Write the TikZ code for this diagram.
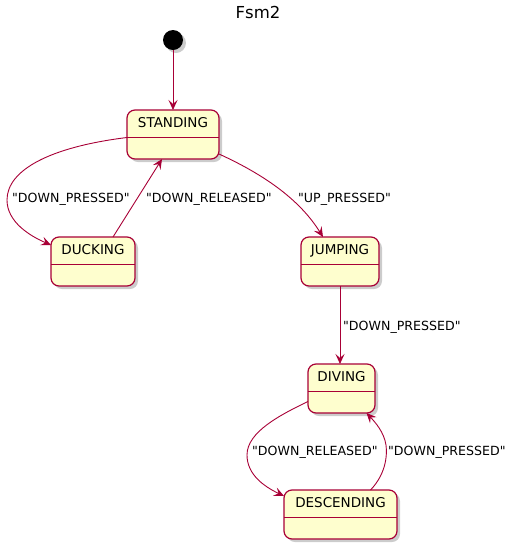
\documentclass[tikz,border=0pt]{standalone}
\usepackage{fontspec}
\setmainfont{DejaVu Sans}
\usetikzlibrary{arrows.meta,shadows}
\definecolor{umlred}{HTML}{A80036}
\definecolor{umlfill}{HTML}{FEFECE}
\newcommand{\qq}[1]{\textquotedbl#1\textquotedbl}

\begin{document}
\begin{tikzpicture}[x=1pt,y=-1pt,
    state/.style={draw=umlred,fill=umlfill,line width=1.2pt,rounded corners=8pt,
      minimum height=49pt,inner ysep=7pt,text height=10.5pt,text depth=24.5pt,outer sep=0pt,
      font=\fontsize{13.5}{16}\selectfont,
      drop shadow={shadow xshift=3pt,shadow yshift=-3pt,fill=black!40,opacity=0.5}},
    divider/.style={draw=umlred,line width=1pt},
    edge/.style={draw=umlred,line width=0.9pt,-{Stealth[length=10pt,width=9pt,inset=4pt]}},
    lbl/.style={anchor=west,inner sep=0pt,font=\fontsize{12.6}{15}\selectfont}]
      \useasboundingbox (0,0) rectangle (516,550);
      \node[font=\fontsize{16.5}{19}\selectfont] (title) at (258,12) {Fsm2};
      \node[circle,fill=black,minimum size=20pt,inner sep=0pt,
        drop shadow={shadow xshift=3pt,shadow yshift=-3pt,fill=black!40,opacity=0.5}] (init) at (173,40) {};
      %
      \node[state,minimum width=92pt] (standing) at (173,134.5) {STANDING};
      \node[state,minimum width=84pt] (ducking) at (93,261.5) {DUCKING};
      \node[state,minimum width=78pt] (jumping) at (340,261.5) {JUMPING};
      \node[state,minimum width=67pt] (diving) at (341.5,388.5) {DIVING};
      \node[state,minimum width=113pt] (descending) at (340.5,514.5) {DESCENDING};
      \foreach \s in {standing,ducking,jumping,diving,descending}
        \draw[divider] ([yshift=-27pt]\s.north west) -- ([yshift=-27pt]\s.north east);
      %
      \draw[edge] (init) -- (standing);
      \draw[edge] ([yshift=-3pt]standing.west) .. controls (50,147) and (7,170) .. (7,200)
        .. controls (7,222) and (30,236) .. ([yshift=-8pt]ducking.north west);
      \draw[edge] ([xshift=20pt]ducking.north) -- ([xshift=-11pt]standing.south);
      \draw[edge] ([yshift=5pt]standing.south east) .. controls (265,175) and (300,200) .. ([xshift=-17pt]jumping.north);
      \draw[edge] (jumping.south) -- (jumping.south |- diving.north);
      \draw[edge] ([yshift=-13pt]diving.west) .. controls (280,415) and (247,432) .. (247,455)
        .. controls (247,475) and (265,487) .. ([yshift=-6pt]descending.north west);
      \draw[edge] ([xshift=30pt]descending.north) .. controls (382,478) and (388,462) .. (386,445)
        .. controls (384,432) and (375,422) .. ([xshift=25pt]diving.south);
      %
      \node[lbl] (lbl1) at (12,199) {\qq{DOWN\_PRESSED}};
      \node[lbl] (lbl2) at (146,199) {\qq{DOWN\_RELEASED}};
      \node[lbl] (lbl3) at (298,199) {\qq{UP\_PRESSED}};
      \node[lbl] (lbl4) at (343,327) {\qq{DOWN\_PRESSED}};
      \node[lbl] (lbl5) at (252,452) {\qq{DOWN\_RELEASED}};
      \node[lbl] (lbl6) at (388,452) {\qq{DOWN\_PRESSED}};
\end{tikzpicture}
\end{document}
